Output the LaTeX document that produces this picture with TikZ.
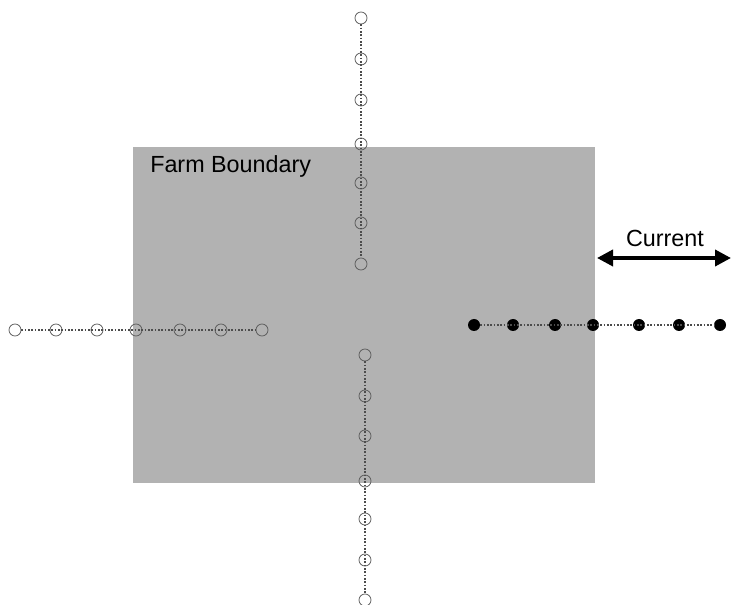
\documentclass[tikz,border=0pt]{standalone}
\usepackage{fontspec}
\setmainfont{Liberation Sans}
\usetikzlibrary{arrows.meta}
\begin{document}
\begin{tikzpicture}[x=0.75pt,y=-0.75pt,
  farm/.style={fill=black!30,draw=none},
  buoy/.style={circle,draw=black!65,line width=0.55pt,inner sep=0pt,minimum size=9pt},
  sensor/.style={circle,fill=black,inner sep=0pt,minimum size=9pt},
  tether/.style={draw=black!70,line width=1.2pt,dash pattern=on 1.2pt off 1.3pt},
  flow/.style={line width=2.8pt,{Triangle[length=12pt,width=12pt]}-{Triangle[length=12pt,width=12pt]}},
  lbl/.style={font=\fontsize{17.5}{20}\selectfont,inner sep=0pt}]
\useasboundingbox (0,0) rectangle (731,605);
\fill[white] (0,0) rectangle (731,605);
% farm area
\path[farm] (133,147) rectangle (595,483);
\node[lbl,anchor=west] (farmlbl) at (150,166) {Farm Boundary};
% north transect
\foreach \i/\y in {1/18,2/59,3/100,4/144,5/183,6/223,7/264}
  \node[buoy] (n\i) at (361,\y) {};
\draw[tether] (n1) -- (n7);
% south transect
\foreach \i/\y in {1/355,2/396,3/436,4/481,5/519,6/560,7/600}
  \node[buoy] (s\i) at (365,\y) {};
\draw[tether] (s1) -- (s7);
% west transect
\foreach \i/\x in {1/15,2/56,3/97,4/136,5/180,6/221,7/262}
  \node[buoy] (w\i) at (\x,330) {};
\draw[tether] (w1) -- (w7);
% east transect
\foreach \i/\x in {1/474,2/513,3/555,4/593,5/639,6/679,7/720}
  \node[sensor] (e\i) at (\x,325) {};
\draw[tether] (e1) -- (e7);
% current direction
\coordinate (cw) at (597,258);
\coordinate (ce) at (731,258);
\draw[flow] (cw) -- (ce);
\node[lbl] (curlbl) at (665,238) {Current};
\end{tikzpicture}
\end{document}
